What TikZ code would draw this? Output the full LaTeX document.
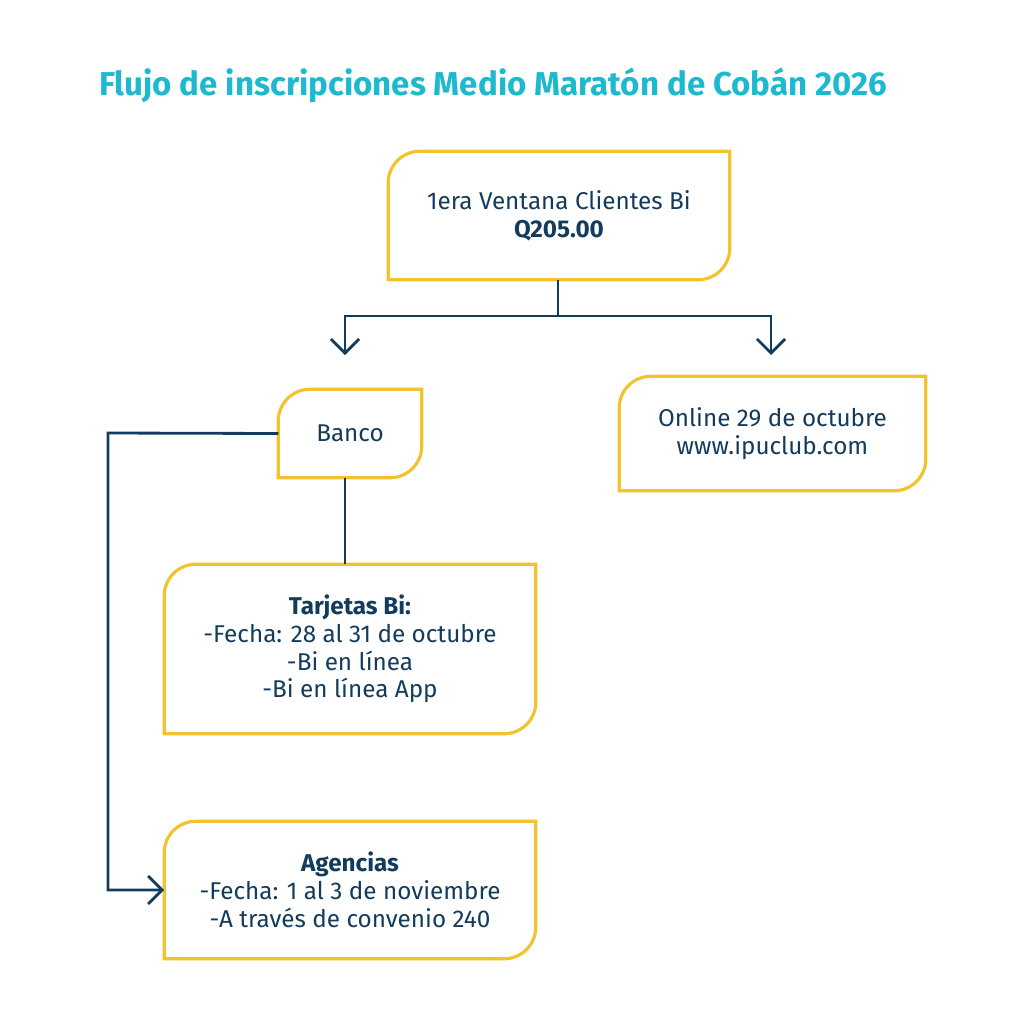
\documentclass[tikz,border=0pt]{standalone}
\usepackage{fontspec}
\setmainfont{Fira Sans}
\usetikzlibrary{calc, arrows.meta}

\definecolor{titlecyan}{HTML}{1DB9CF}
\definecolor{navy}{HTML}{123B5C}
\definecolor{gold}{HTML}{F2C230}

\tikzset{
	box/.style={minimum width=#1, inner sep=0pt, align=center,
		text=navy, font=\fontsize{6.9}{7.9}\selectfont},
	link/.style={draw=navy, line width=0.8pt},
	tip/.style={-{Straight Barb[length=4pt,width=8pt]}},
}
% leaf-shaped outline around a named node
\newcommand{\leafline}[1]{
	\draw[gold, line width=0.9pt] (#1.west) [rounded corners=9pt]
		-- (#1.north west) -- (#1.north) [sharp corners]
		-- (#1.north east) -- (#1.east) [rounded corners=9pt]
		-- (#1.south east) -- (#1.south) [sharp corners]
		-- (#1.south west) -- cycle;
}

\begin{document}
\begin{tikzpicture}[x=0.01cm, y=-0.01cm]
	\useasboundingbox (0,0) rectangle (1024,1024);
	\node (title) at (493,85) [text=titlecyan,
		font=\fontsize{9.4}{11}\bfseries\selectfont] {Flujo de inscripciones Medio Marat\'on de Cob\'an 2026};

	\node (top) at (559,215.5) [box, minimum width=3.4cm, minimum height=1.27cm]
		{1era Ventana Clientes Bi\\\textbf{Q205.00}};
	\node (banco) at (350,433.5) [box, minimum width=1.42cm, minimum height=0.87cm] {Banco};
	\node (online) at (772.5,433.5) [box, minimum width=3.05cm, minimum height=1.13cm]
		{Online 29 de octubre\\www.ipuclub.com};
	\node (tarj) at (350,649) [box, minimum width=3.7cm, minimum height=1.68cm]
		{\textbf{Tarjetas Bi:}\\-Fecha: 28 al 31 de octubre\\-Bi en l\'inea\\-Bi en l\'inea App};
	\node (agen) at (350,890) [box, minimum width=3.7cm, minimum height=1.36cm]
		{\textbf{Agencias}\\-Fecha: 1 al 3 de noviembre\\-A trav\'es de convenio 240};

	\leafline{top}
	\leafline{banco}
	\leafline{online}
	\leafline{tarj}
	\leafline{agen}

	\coordinate (split) at (558,316);
	\coordinate (lane) at (108,433);
	\draw[link] (top.south -| split) -- (split);
	\draw[link, tip] (split) -| (345,355);
	\draw[link, tip] (split) -| (771,355);
	\draw[link] (banco.south -| 345,0) -- (tarj.north -| 345,0);
	\draw[link, tip] (banco.west) -- (lane) |- (agen.west);
\end{tikzpicture}
\end{document}
